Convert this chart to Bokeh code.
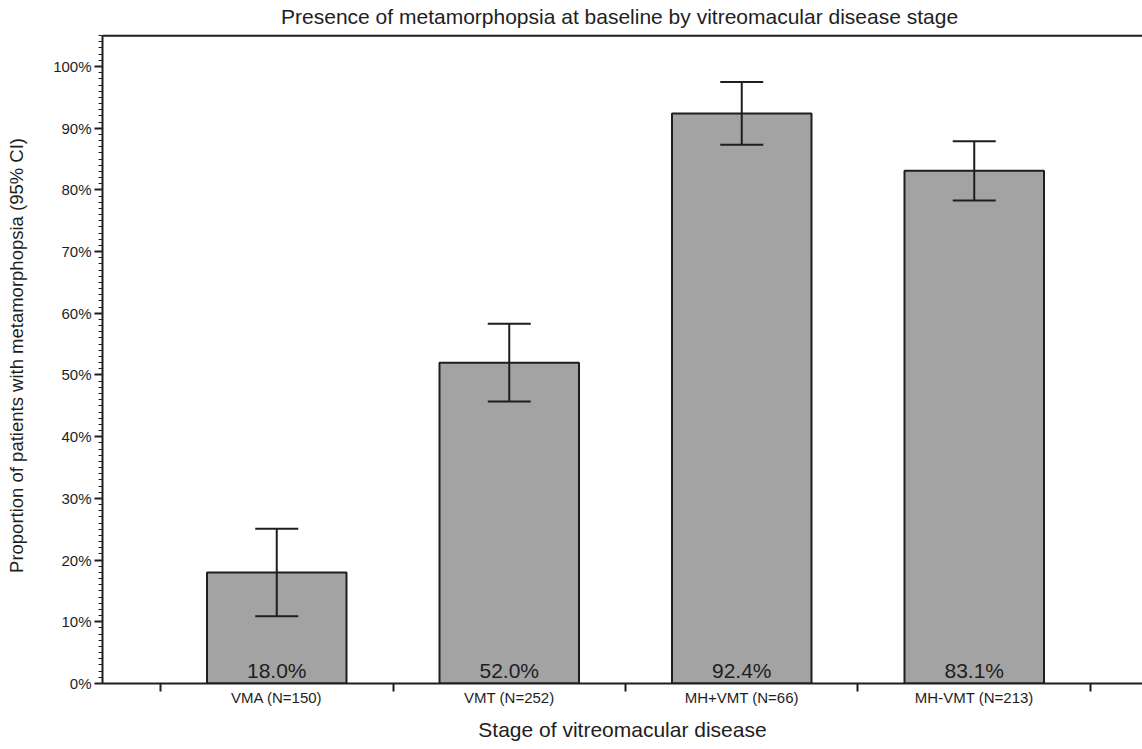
from bokeh.plotting import figure
from bokeh.models import (ColumnDataSource, Range1d, FixedTicker, PrintfTickFormatter,
                          Whisker, TeeHead, Span)
from bokeh.core.properties import value
from bokeh.embed import file_html
from bokeh.resources import INLINE

# ---- data ----
categories = ["VMA (N=150)", "VMT (N=252)", "MH+VMT (N=66)", "MH-VMT (N=213)"]
proportions = [18.0, 52.0, 92.4, 83.1]
ci_lower = [10.9, 45.7, 87.3, 78.3]
ci_upper = [25.1, 58.3, 97.5, 87.9]
y_ticks = [0, 10, 20, 30, 40, 50, 60, 70, 80, 90, 100]

TITLE = "Presence of metamorphopsia  at baseline by vitreomacular disease stage"
FONT = "Liberation Sans"
DARK = "#1e1e1e"
Y_TOP = 105.0  # top of the plotted box

xpos = list(range(1, len(categories) + 1))
src = ColumnDataSource(dict(
    x=xpos,
    top=proportions,
    lower=ci_lower,
    upper=ci_upper,
    base=[0] * len(categories),
    label=[f"{v:.1f}%" for v in proportions],
))

p = figure(width=1142, height=749, output_backend="svg", toolbar_location=None,
           x_range=Range1d(0.2505, 4.7237), y_range=Range1d(0, 106.32),
           min_border_left=102, min_border_right=0, min_border_top=27, min_border_bottom=66)

p.title.text = TITLE
p.title.align = "center"
p.title.offset = -6
p.title.text_font = FONT
p.title.text_font_size = "21px"
p.title.text_font_style = "normal"
p.title.text_color = DARK
p.title.standoff = 0

p.outline_line_color = None
p.xgrid.visible = False
p.ygrid.visible = False
p.background_fill_color = "white"

# bars
p.vbar(x="x", top="top", bottom=0, width=0.6, source=src,
       fill_color="#a3a3a3", line_color=DARK, line_width=2)

# error bars
p.add_layout(Whisker(source=src, base="x", lower="lower", upper="upper",
                     dimension="height", line_color=DARK, line_width=2, level="overlay",
                     upper_head=TeeHead(size=43, line_color=DARK, line_width=2),
                     lower_head=TeeHead(size=43, line_color=DARK, line_width=2)))

# value labels inside bars
p.text(x="x", y="base", text="label", source=src, text_align="center",
       text_baseline="middle", y_offset=-13, text_font=value(FONT),
       text_font_size="21px", text_color=DARK)

# top frame line
p.add_layout(Span(location=Y_TOP, dimension="width", line_color=DARK, line_width=2))

# y axis
ya = p.yaxis[0]
ya.bounds = (0, Y_TOP)
ya.ticker = FixedTicker(ticks=y_ticks, minor_ticks=list(range(0, 106)))
ya.formatter = PrintfTickFormatter(format="%d%%")
ya.axis_label = "Proportion of patients with metamorphopsia (95% CI)"
ya.axis_label_text_font = FONT
ya.axis_label_text_font_size = "18.5px"
ya.axis_label_text_font_style = "normal"
ya.axis_label_text_color = DARK
ya.axis_label_standoff = 23
ya.major_label_text_font = FONT
ya.major_label_text_font_size = "15px"
ya.major_label_text_color = DARK
ya.major_label_standoff = 3
ya.major_tick_out = 8
ya.major_tick_in = 0
ya.minor_tick_out = 4
ya.minor_tick_in = 0
ya.axis_line_width = 2
ya.axis_line_color = DARK
ya.major_tick_line_color = DARK
ya.major_tick_line_width = 2
ya.minor_tick_line_color = DARK
ya.minor_tick_line_width = 1

# x axis: labels at category centres, ticks at category boundaries
xa = p.xaxis[0]
xa.ticker = FixedTicker(ticks=xpos, minor_ticks=[i + 0.5 for i in range(len(categories) + 1)])
xa.major_label_overrides = {i: c for i, c in zip(xpos, categories)}
xa.axis_label = "Stage of vitreomacular disease"
xa.axis_label_text_font = FONT
xa.axis_label_text_font_size = "21px"
xa.axis_label_text_font_style = "normal"
xa.axis_label_text_color = DARK
xa.axis_label_standoff = 9
xa.major_label_text_font = FONT
xa.major_label_text_font_size = "15px"
xa.major_label_text_color = DARK
xa.major_label_standoff = -3
xa.major_tick_out = 0
xa.major_tick_in = 0
xa.minor_tick_out = 8
xa.minor_tick_in = 0
xa.axis_line_width = 2
xa.axis_line_color = DARK
xa.minor_tick_line_color = DARK
xa.minor_tick_line_width = 2

open("out.html", "w").write(file_html(p, INLINE))
